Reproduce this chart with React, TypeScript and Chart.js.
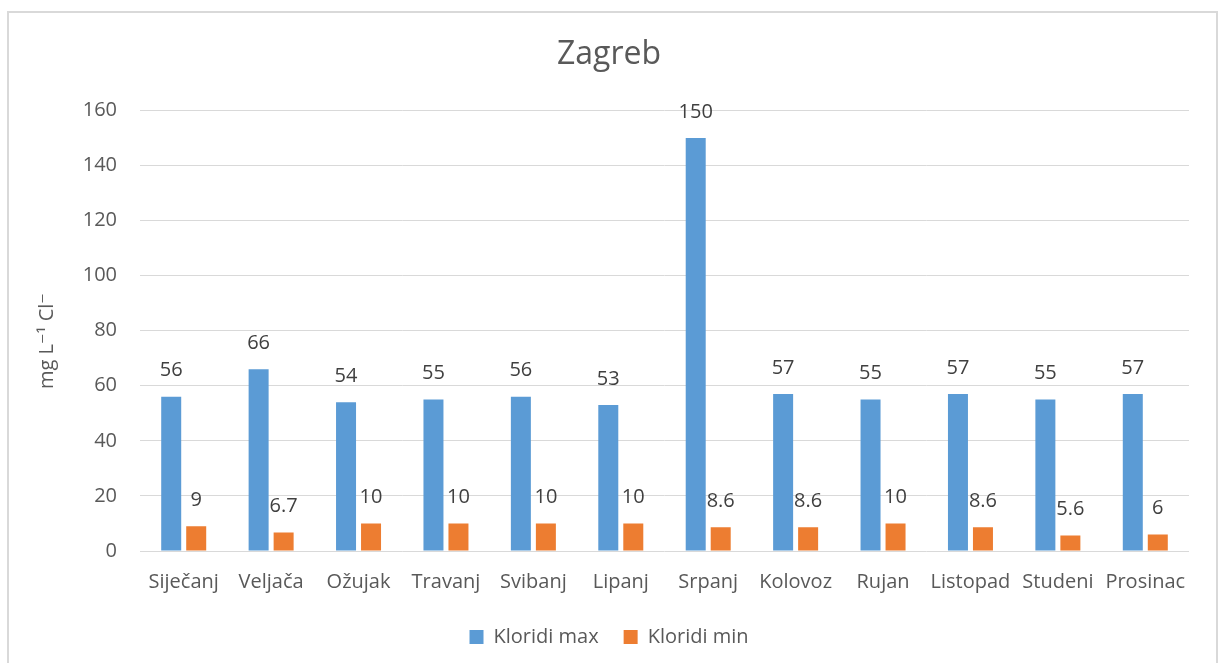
import React, { useEffect, useRef } from "react";
import { Chart, registerables } from "chart.js";

Chart.register(...registerables);

const categories = ["Siječanj", "Veljača", "Ožujak", "Travanj", "Svibanj", "Lipanj", "Srpanj", "Kolovoz", "Rujan", "Listopad", "Studeni", "Prosinac"];
const kloridiMax = [56, 66, 54, 55, 56, 53, 150, 57, 55, 57, 55, 57];
const kloridiMin = [9, 6.7, 10, 10, 10, 10, 8.6, 8.6, 10, 8.6, 5.6, 6];
const seriesNames = ["Kloridi max", "Kloridi min"];
const yTicks = { min: 0, max: 160, step: 20 };

const FONT = "'Open Sans', 'DejaVu Sans', sans-serif";

const dataLabels = {
  id: "dataLabels",
  afterDatasetsDraw(chart: any) {
    const ctx = chart.ctx;
    ctx.save();
    ctx.font = `20px ${FONT}`;
    ctx.fillStyle = "#404040";
    ctx.textAlign = "center";
    ctx.textBaseline = "middle";
    chart.data.datasets.forEach((ds: any, i: number) => {
      const meta = chart.getDatasetMeta(i);
      meta.data.forEach((el: any, j: number) => {
        ctx.fillText(String(ds.data[j]), el.x, el.y - 26);
      });
    });
    ctx.restore();
  },
};

export default function App() {
  const ref = useRef<HTMLCanvasElement>(null);
  useEffect(() => {
    if (!ref.current) return;
    Chart.defaults.font.family = FONT;
    const chart = new Chart(ref.current, {
      type: "bar",
      data: {
        labels: categories,
        datasets: [
          { label: seriesNames[0], data: kloridiMax, backgroundColor: "#5B9BD5", categoryPercentage: 0.572, barPercentage: 0.8 },
          { label: seriesNames[1], data: kloridiMin, backgroundColor: "#ED7D31", categoryPercentage: 0.572, barPercentage: 0.8 },
        ],
      },
      options: {
        animation: false,
        responsive: true,
        maintainAspectRatio: false,
        layout: { padding: { left: 20, right: 27, top: 0, bottom: 6 } },
        plugins: {
          title: {
            display: true,
            text: "Zagreb",
            color: "#595959",
            font: { size: 32, weight: "normal", family: FONT },
            padding: { top: 23, bottom: 36 },
          },
          legend: {
            position: "bottom",
            labels: {
              color: "#595959",
              font: { size: 20, family: FONT },
              boxWidth: 14,
              boxHeight: 14,
              padding: 25,
            },
          },
          tooltip: { enabled: false },
        },
        scales: {
          x: {
            grid: { display: false, drawTicks: false },
            border: { display: false },
            ticks: { color: "#595959", font: { size: 20, family: FONT }, padding: 19, maxRotation: 0, autoSkip: false },
            afterFit: (s: any) => { s.height = 51; },
          },
          y: {
            min: yTicks.min,
            max: yTicks.max,
            grid: { color: "#d9d9d9", lineWidth: 1, drawTicks: false },
            border: { display: false },
            ticks: { stepSize: yTicks.step, color: "#595959", font: { size: 20, family: FONT }, padding: 23 },
            title: {
              display: true,
              text: "mg L⁻¹ Cl⁻    ",
              color: "#595959",
              font: { size: 20, weight: "normal", family: FONT },
              padding: { top: 6, bottom: 0 },
            },
            afterFit: (s: any) => { s.width = 111; },
          },
        },
      },
      plugins: [dataLabels],
    } as any);
    return () => chart.destroy();
  }, []);

  return (
    <div
      style={{
        position: "fixed",
        left: 7,
        top: 11,
        width: 1211,
        height: 652,
        boxSizing: "border-box",
        borderLeft: "2px solid #d9d9d9",
        borderTop: "2px solid #d9d9d9",
        borderRight: "2px solid #d9d9d9",
        background: "#fff",
      }}
    >
      <div style={{ position: "relative", width: 1207, height: 650 }}>
        <canvas ref={ref} />
      </div>
    </div>
  );
}
